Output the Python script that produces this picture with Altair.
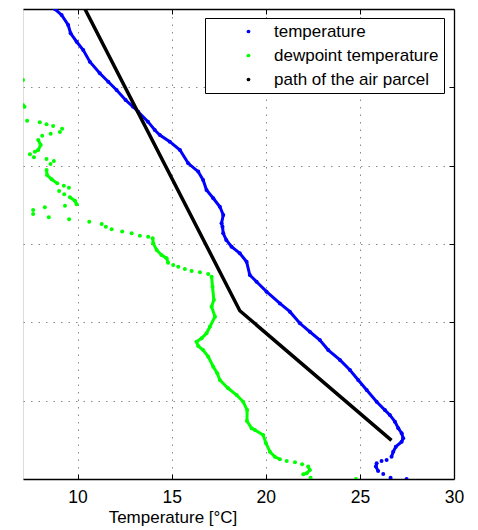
import altair as alt
import pandas as pd

# ---------------- data ----------------
# temperature profile: height [m], temperature [°C], segment id (0 = isolated dot)
temp_h = [0, 8, 32, 51, 79, 100, 115, 121, 142, 174, 206, 238, 260, 292, 324, 366, 409, 440,
          493, 568, 632, 696, 760, 823, 887, 940, 994, 1068, 1121, 1196, 1259, 1302, 1387,
          1441, 1483, 1526, 1568, 1610, 1632, 1685, 1738, 1792, 1845, 1909, 1962, 2015, 2100,
          2153, 2196, 2228, 2281, 2344, 2376, 2419, 2483, 2536, 2590, 2664, 2738, 2791,
          2845, 2898, 2962, 3000]
temp_T = [27.48, 26.63, 26.24, 25.97, 25.85, 25.89, 26.15, 26.42, 26.68, 26.77, 26.91, 27.22,
          27.30, 27.22, 27.04, 26.86, 26.59, 26.33, 25.89, 25.36, 24.91, 24.47, 23.94, 23.32,
          22.87, 22.34, 21.81, 21.28, 20.75, 20.04, 19.51, 19.15, 18.98, 18.62, 18.18, 17.90,
          17.74, 17.70, 17.65, 17.74, 17.56, 17.21, 16.85, 16.67, 16.41, 15.88, 15.44, 14.90,
          14.37, 14.10, 13.74, 13.22, 12.95, 12.55, 12.07, 11.63, 11.18, 10.65, 10.30,
          9.95, 9.63, 9.50, 9.15, 8.79]
temp_seg = [0, 0, 0, 1, 1, 1, 0, 0] + [2] * (len(temp_h) - 8)

# dewpoint profile
dew_h = [0, 8, 30, 36, 57, 79, 94, 107, 115, 126, 142, 174, 228, 281, 313, 324, 370, 440, 493,
         536, 579, 632, 675, 717, 781, 823, 849, 876, 898, 930, 972, 1036, 1100, 1143, 1227,
         1291, 1309, 1319, 1328, 1340, 1355, 1366, 1381, 1409, 1430, 1462, 1504, 1536, 1547,
         1553, 1568, 1579, 1594, 1610, 1628, 1642, 1658, 1670, 1691, 1717, 1734, 1744, 1753,
         1776, 1798, 1817, 1838, 1859, 1872, 1887, 1913, 1940, 1972, 2011, 2030, 2043, 2053,
         2073, 2089, 2100, 2132, 2164, 2191, 2204, 2215, 2236, 2253, 2264, 2277, 2287, 2376,
         2387, 2547]
dew_T = [24.79, 22.38, 21.99, 22.17, 22.34, 22.25, 21.93, 21.55, 21.11, 20.75, 20.48, 20.22,
         20.01, 19.86, 19.42, 19.25, 19.00, 19.01, 18.80, 18.45, 18.00, 17.56, 17.42, 17.21,
         16.94, 16.67, 16.41, 16.32, 16.59, 16.85, 17.03, 17.30, 17.12, 17.24, 17.17, 17.12,
         16.94, 16.50, 16.06, 15.70, 15.35, 15.08, 14.81, 14.73, 14.46, 14.20, 14.02, 13.99,
         13.75, 13.31, 12.87, 12.37, 11.81, 11.50, 11.28, 10.62, 9.55, 8.47, 7.64, 7.64, 8.26,
         9.33, 9.95, 9.86, 9.59, 9.29, 9.02, 9.54, 9.27, 8.92, 8.62, 8.38, 8.35, 8.56, 8.74,
         8.35, 7.68, 7.47, 7.73, 7.91, 8.04, 7.91, 8.12, 8.57, 9.06, 9.18, 8.70, 8.35, 7.99,
         7.32, 7.18, 7.10, 7.10]
dew_seg = ([0, 0, 1, 1, 1, 1, 0, 0, 0] + [2] * 27 + [0] * 6 + [3] * 6 + [0] * 14 + [6] * 3
           + [0] * 4 + [4] * 4 + [0] * 5 + [5] * 4 + [0] * 11)

# path of the air parcel
parcel_h = [247, 1074, 3000]
parcel_T = [26.68, 18.62, 10.39]

series_names = ["temperature", "dewpoint temperature", "path of the air parcel"]
series_colors = ["#0000ff", "#00ff00", "#000000"]
x_ticks = [10, 15, 20, 25, 30]
y_ticks = [500, 1000, 1500, 2000, 2500]

# ---------------- chart ----------------
W, H = 431, 470
FONT = "Liberation Sans"

temp_df = pd.DataFrame({"T": temp_T, "h": temp_h, "seg": temp_seg, "series": series_names[0]})
dew_df = pd.DataFrame({"T": dew_T, "h": dew_h, "seg": dew_seg, "series": series_names[1]})
parcel_df = pd.DataFrame({"T": parcel_T, "h": parcel_h, "series": series_names[2]})

xscale = alt.Scale(domain=[7.1, 30], nice=False, zero=False)
yscale = alt.Scale(domain=[0, 3000], nice=False, zero=False)
cscale = alt.Scale(domain=series_names, range=series_colors)

grid_dash = [1.5, 6]
ax_main_x = alt.Axis(orient="bottom", values=x_ticks, grid=True, gridColor="#8a8a8a",
                     gridDash=grid_dash, gridWidth=1, ticks=False, tickSize=0,
                     labelFontSize=17.5, labelFont=FONT, labelColor="black", labelPadding=9,
                     labelFlush=False, domain=True, domainColor="black", domainWidth=1.3,
                     title="Temperature [°C]", titleFont=FONT, titleFontSize=17,
                     titleFontWeight="normal", titleColor="black", titleX=149.5, titleY=43.5,
                     titleBaseline="alphabetic", titleAlign="center")
ax_bottom_ticks = alt.Axis(orient="top", offset=-H, values=[10, 15, 20, 25], domain=False,
                           labels=False, grid=False, ticks=True, tickSize=5, tickColor="black",
                           tickWidth=1, title=None)
ax_top_border = alt.Axis(orient="bottom", offset=-H, values=[10, 15, 20, 25], domain=True,
                         domainColor="black", domainWidth=1.3, labels=False, grid=False,
                         ticks=True, tickSize=5, tickColor="black", tickWidth=1, title=None)
ax_main_y = alt.Axis(orient="left", values=y_ticks, grid=True, gridColor="#8a8a8a",
                     gridDash=grid_dash, gridWidth=1, ticks=False, labels=False, domain=False,
                     title=None)
ax_right_border = alt.Axis(orient="left", offset=-W, values=y_ticks, domain=True,
                           domainColor="black", domainWidth=1.3, labels=False, grid=False,
                           ticks=True, tickSize=5, tickColor="black", tickWidth=1, title=None)

legend = alt.Legend(title=None, orient="none", legendX=182, legendY=9, direction="vertical",
                    symbolType="circle", symbolSize=14, symbolStrokeWidth=0,
                    symbolOffset=30, labelOffset=17, labelFont=FONT, labelFontSize=17,
                    labelColor="black", labelLimit=400, strokeColor="black", fillColor="white",
                    padding=5, rowPadding=6)

dew_line = alt.Chart(dew_df).transform_filter("datum.seg > 0").mark_line(
    color=series_colors[1], strokeWidth=3, clip=True).encode(
    x=alt.X("T:Q", scale=xscale, axis=ax_main_x),
    y=alt.Y("h:Q", scale=yscale, axis=ax_main_y),
    detail="seg:N", order="h:Q")

dew_pts = alt.Chart(dew_df).mark_circle(size=16, opacity=1, clip=True).encode(
    x=alt.X("T:Q", scale=xscale, axis=ax_bottom_ticks),
    y=alt.Y("h:Q", scale=yscale, axis=ax_right_border),
    color=alt.Color("series:N", scale=cscale, legend=legend))

temp_line = alt.Chart(temp_df).transform_filter("datum.seg > 0").mark_line(
    color=series_colors[0], strokeWidth=3, clip=True).encode(
    x=alt.X("T:Q", scale=xscale, axis=ax_top_border),
    y=alt.Y("h:Q", scale=yscale, axis=None),
    detail="seg:N", order="h:Q")

temp_pts = alt.Chart(temp_df).mark_circle(size=16, opacity=1, clip=True).encode(
    x=alt.X("T:Q", scale=xscale, axis=None),
    y=alt.Y("h:Q", scale=yscale, axis=None),
    color=alt.Color("series:N", scale=cscale, legend=legend))

parcel_line = alt.Chart(parcel_df).mark_line(color="black", strokeWidth=3.5, clip=True).encode(
    x=alt.X("T:Q", scale=xscale, axis=None),
    y=alt.Y("h:Q", scale=yscale, axis=None),
    order="h:Q")

chart = alt.layer(dew_line, dew_pts, temp_line, temp_pts, parcel_line).resolve_axis(
    x="independent", y="independent").properties(
    width=W, height=H,
    autosize=alt.AutoSizeParams(type="none"),
    padding={"left": 23, "top": 9, "right": 24, "bottom": 51},
    background="white",
).configure_view(stroke=None).configure(font=FONT)

chart.save("out.html", embed_options={"renderer": "svg", "actions": False})
